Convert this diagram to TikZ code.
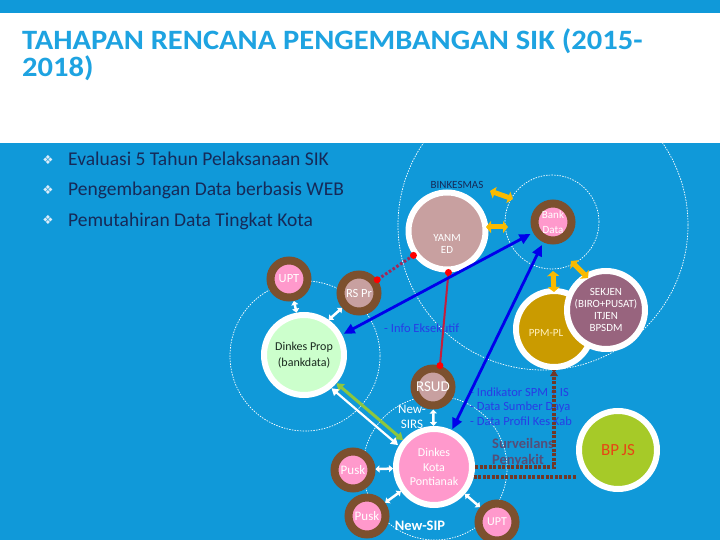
\documentclass[tikz,border=0pt]{standalone}
\usepackage{fontspec}
\setmainfont{Carlito}
\newfontfamily\symfont{DejaVu Sans}
\newfontfamily\titlefont[FakeStretch=1.09]{Carlito}
\usetikzlibrary{arrows.meta,calc}
\definecolor{bgblue}{RGB}{16,153,217}
\definecolor{titleblue}{RGB}{30,163,225}
\definecolor{navy}{RGB}{22,42,88}
\definecolor{ringbrown}{RGB}{124,80,46}
\definecolor{pinkc}{RGB}{255,153,204}
\definecolor{rosec}{RGB}{200,160,160}
\definecolor{goldc}{RGB}{202,155,0}
\definecolor{ppmtext}{RGB}{255,240,190}
\definecolor{mauvec}{RGB}{152,100,126}
\definecolor{mintc}{RGB}{204,255,204}
\definecolor{darktext}{RGB}{25,40,30}
\definecolor{limec}{RGB}{166,202,40}
\definecolor{bpjstext}{RGB}{230,70,20}
\definecolor{yellowc}{RGB}{250,186,0}
\definecolor{arrowblue}{RGB}{0,0,235}
\definecolor{textblue}{RGB}{40,60,230}
\definecolor{survc}{RGB}{85,78,120}
\definecolor{dotbrown}{RGB}{112,56,40}
\definecolor{crimsonc}{RGB}{195,30,60}
\definecolor{dotred}{RGB}{160,40,90}
\definecolor{greenc}{RGB}{141,198,63}
\definecolor{bulletc}{RGB}{220,236,250}
\tikzset{
  fsz/.style 2 args={font=\fontsize{#1}{#2}\selectfont},
  fszb/.style 2 args={font=\fontsize{#1}{#2}\selectfont\bfseries},
  titlestyle/.style={anchor=base west, inner sep=0pt, text=titleblue, font=\titlefont\fontsize{28}{32}\selectfont\bfseries},
  wring/.style={circle, draw=white, line width=6pt, inner sep=0pt, minimum size=#1},
  bring/.style={circle, draw=ringbrown, line width=8pt, inner sep=0pt, minimum size=37pt, text=white},
  lbl/.style={align=center, text=white, inner sep=0pt},
  orbit/.style={draw=white, line width=0.7pt, dash pattern=on 1.5pt off 1.2pt},
  bulletsym/.style={font=\symfont\fontsize{12.5}{14}\selectfont, text=bulletc, inner sep=0pt},
  bullettext/.style={anchor=base west, inner sep=0pt, text=navy, fsz={19.5}{22}},
  yarrow/.style={draw=yellowc, line width=5pt, {Triangle[width=12pt,length=5pt]}-{Triangle[width=12pt,length=5pt]}},
  barrow/.style={draw=arrowblue, line width=2.8pt, {Triangle[width=10pt,length=11pt]}-{Triangle[width=10pt,length=11pt]}},
  warrow/.style={draw=white, line width=2.5pt, {Triangle[width=7pt,length=4pt]}-{Triangle[width=7pt,length=4pt]}},
  garrow/.style={draw=greenc, line width=3pt, {Triangle[width=9pt,length=7pt]}-{Triangle[width=9pt,length=7pt]}},
  wlong/.style={draw=white, line width=2.2pt, {Triangle[width=8pt,length=7pt]}-{Triangle[width=8pt,length=7pt]}},
  brownline/.style={draw=dotbrown, line width=3.5pt, dash pattern=on 3pt off 1.5pt},
  reddot/.style={circle, fill=red, inner sep=0pt, minimum size=7pt},
  bluetext/.style={anchor=base west, inner sep=0pt, text=textblue, fsz={12.5}{14.5}},
}
\begin{document}
\begin{tikzpicture}[x=1pt,y=-1pt]
\useasboundingbox (0,0) rectangle (720,540);
\fill[white] (0,0) rectangle (720,540);
\fill[bgblue] (0,0) rectangle (720,13);
\fill[bgblue] (0,143) rectangle (720,540);

% title
\node[titlestyle] (title1) at (22,50) {TAHAPAN RENCANA PENGEMBANGAN SIK (2015-};
\node[titlestyle] (title2) at (22,77) {2018)};

% bullets
\node[bulletsym] (bs1) at (48,160) {❖};
\node[bulletsym] (bs2) at (48,190) {❖};
\node[bulletsym] (bs3) at (48,220) {❖};
\node[bullettext] (b1) at (68,166) {Evaluasi 5 Tahun Pelaksanaan SIK};
\node[bullettext] (b2) at (68,196) {Pengembangan Data berbasis WEB};
\node[bullettext] (b3) at (68,226) {Pemutahiran Data Tingkat Kota};

% orbits
\begin{scope}
\clip (0,143) rectangle (720,540);
\draw[orbit] (543,225) circle[radius=145pt];
\end{scope}
\draw[orbit] (552,222) circle[radius=47pt];
\draw[orbit] (305,356) circle[radius=75pt];
\draw[orbit] (435,468) circle[radius=72pt];

% texts under connectors
\node[inner sep=0pt, text=navy, fsz={11}{13}] (binkes) at (457,185) {BINKESMAS};
\node[bluetext] (info) at (384,332.5) {- Info Eksekutif};
\node[bluetext] (ind1) at (470,396.5) {- Indikator SPM + IS};
\node[bluetext] (ind2) at (470,410.5) {- Data Sumber Daya};
\node[bluetext] (ind3) at (470,425.5) {- Data Profil Kes Kab};
\node[anchor=base west, inner sep=0pt, text=survc, fszb={14.5}{17}] (surv1) at (492,448) {Surveilans};
\node[anchor=base west, inner sep=0pt, text=survc, fszb={14.5}{17}] (surv2) at (492,464) {Penyakit};

% nodes
\node[wring=77pt, fill=rosec] (yanmed) at (447,231) {};
\node[lbl, fsz={11}{11.5}] (yanmedT) at (447,244) {YANM\\ED};
\node[bring, fill=pinkc, align=center, fsz={11}{14.5}] (bank) at (553,222) {Bank\\Data};
\node[wring=76pt, fill=goldc] (ppm) at (554,329) {};
\node[lbl, text=ppmtext, fsz={11}{13}] (ppmT) at (546,333) {PPM-PL};
\node[wring=78pt, fill=mauvec, text=white, align=center, fsz={11}{11.7}] (sekjen) at (606,310) {SEKJEN\\(BIRO+PUSAT)\\ITJEN\\BPSDM};
\node[wring=80pt, fill=mintc, text=darktext, align=center, fsz={12}{16}] (dprop) at (304,355) {Dinkes Prop\\(bankdata)};
\node[bring, fill=pinkc, fsz={12.5}{14}] (upt1) at (289,279) {UPT};
\node[bring, fill=rosec, fsz={12.5}{14}] (rspr) at (359,293) {RS Pr};
\node[bring, fill=rosec, fsz={15}{17}] (rsud) at (433,387) {RSUD};
\node[wring=76pt, fill=pinkc, text=white, align=center, fsz={12}{14.5}] (dkota) at (434,467) {Dinkes\\Kota\\Pontianak};
\node[bring, fill=pinkc, fsz={13}{15}] (puskL) at (353,470) {Pusk};
\node[bring, fill=pinkc, fsz={13}{15}] (puskB) at (367,516) {Pusk};
\node[bring, fill=pinkc, fsz={12}{14}] (upt2) at (497,522) {UPT};
\node[lbl, fsz={13}{15}] (sirs) at (412,417) {New-\\SIRS};
\node[lbl, fszb={14.5}{17}] (sip) at (420,526) {New-SIP};
\node[wring=78pt, fill=limec, text=bpjstext, fsz={17}{20}] (bpjs) at (618,450) {BP\kern2.5pt JS};

% brown dotted lines
\draw[brownline] (dkota.east) -| (ppm.south);
\fill[dotbrown] ($(ppm.south)+(-4,6)$) coordinate (pa) -- ($(ppm.south)+(4,6)$) coordinate (pb) -- (ppm.south) -- cycle;
\draw[brownline] (dkota.-14) -- (dkota.-14 -| bpjs.west);

% yellow arrows
\coordinate (y1a) at (490,191);
\coordinate (y1b) at (513,199);
\coordinate (y2a) at (486,227);
\coordinate (y2b) at (508,227);
\coordinate (y3a) at (553,271);
\coordinate (y4a) at (571,261);
\coordinate (y4b) at (588,278);
\draw[yarrow] (y1a) -- (y1b);
\draw[yarrow] (y2a) -- (y2b);
\draw[yarrow] (y3a) -- ($(ppm.north)+(0,4)$);
\draw[yarrow] (y4a) -- (y4b);

% red links
\draw[dotred, line width=3pt, dash pattern=on 2.5pt off 2pt] (yanmed.216) -- (rspr.36);
\node[reddot] (rd1) at (yanmed.216) {};
\node[reddot] (rd2) at (rspr.36) {};
\draw[crimsonc, line width=2pt] (yanmed.-88) -- (rsud.72);
\node[reddot] (rd3) at (yanmed.-88) {};
\node[reddot] (rd4) at (rsud.72) {};

% blue arrows
\draw[barrow, shorten >=3pt, shorten <=2pt] (dprop) -- (bank);
\draw[barrow, shorten >=3pt, shorten <=1pt] (dkota) -- (bank);

% green and white between dinkes
\draw[garrow] (dprop.-41) -- (dkota.139);
\draw[wlong] ([shift={(-5pt,-5pt)}]dprop.-41) -- ([shift={(-5pt,-5pt)}]dkota.139);

% small white arrows
\draw[warrow] (dprop.100) -- (upt1);
\draw[warrow] (dprop.55) -- (rspr);
\draw[warrow] (dkota) -- (rsud);
\draw[warrow] (dkota) -- (puskL);
\draw[warrow] (dkota) -- (puskB);
\draw[warrow] (dkota) -- (upt2);
\end{tikzpicture}
\end{document}
